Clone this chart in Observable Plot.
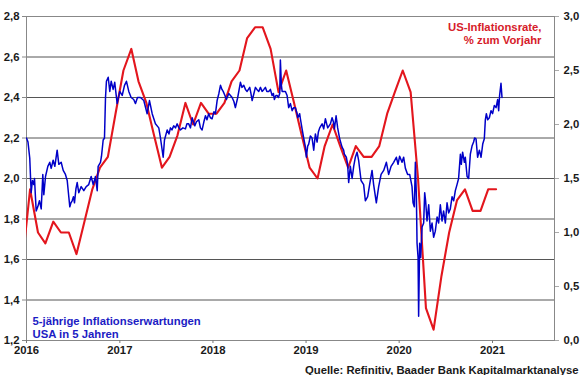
<!DOCTYPE html>
<html><head><meta charset="utf-8">
<script src="https://cdn.jsdelivr.net/npm/d3@7"></script>
<script src="https://cdn.jsdelivr.net/npm/@observablehq/plot@0.6"></script>
<style>body{margin:0;background:#fff}</style>
</head><body><div id="chart"></div>
<script>
// Left axis (5y5y breakeven, %) ticks
const leftTicks = [1.2, 1.4, 1.6, 1.8, 2.0, 2.2, 2.4, 2.6, 2.8];
// Right axis (CPI, % yoy) ticks
const rightTicks = [0, 0.5, 1.0, 1.5, 2.0, 2.5, 3.0];
const yearTicks = [2016, 2017, 2018, 2019, 2020, 2021];

// US CPI inflation, % yoy, monthly Dec 2015 .. Jan 2021
const cpiStart = [2015, 11]; // year, month index
const cpiValues = [0.7,
  1.4,1.0,0.9,1.1,1.0,1.0,0.8,1.1,1.4,1.6,1.7,2.1,
  2.5,2.7,2.4,2.2,1.9,1.6,1.7,1.9,2.2,2.0,2.2,2.1,
  2.1,2.2,2.4,2.5,2.8,2.9,2.9,2.7,2.3,2.5,2.2,1.9,
  1.6,1.5,1.8,2.0,1.8,1.6,1.8,1.7,1.7,1.8,2.1,2.3,
  2.5,2.3,1.5,0.3,0.1,0.6,1.0,1.3,1.4,1.2,1.2,1.4,
  1.4];

// 5y5y inflation expectations: time (years since 1 Jan 2016) and value (%)
const bevYears = [0.000,0.016,0.035,0.050,0.064,0.078,0.086,0.097,0.104,0.121,0.139,0.158,0.175,0.186,0.204,0.229,0.250,0.265,0.286,0.304,0.329,0.347,0.372,0.394,0.418,0.437,0.454,0.465,0.477,0.490,0.504,0.515,0.531,0.544,0.561,0.587,0.615,0.641,0.668,0.694,0.716,0.740,0.759,0.769,0.794,0.805,0.823,0.837,0.848,0.858,0.877,0.894,0.909,0.930,0.947,0.973,1.001,1.027,1.052,1.073,1.098,1.123,1.151,1.170,1.191,1.223,1.259,1.295,1.320,1.349,1.384,1.420,1.438,1.467,1.481,1.510,1.529,1.545,1.561,1.580,1.599,1.617,1.636,1.652,1.679,1.706,1.722,1.741,1.760,1.778,1.806,1.824,1.849,1.867,1.885,1.904,1.921,1.937,1.956,1.974,1.992,2.012,2.028,2.046,2.065,2.082,2.098,2.111,2.130,2.146,2.171,2.189,2.207,2.226,2.242,2.267,2.296,2.312,2.332,2.350,2.368,2.396,2.409,2.422,2.441,2.457,2.473,2.493,2.511,2.529,2.548,2.564,2.580,2.600,2.618,2.636,2.650,2.661,2.677,2.690,2.704,2.718,2.725,2.736,2.744,2.761,2.779,2.797,2.814,2.833,2.851,2.868,2.886,2.905,2.911,2.932,2.940,2.958,2.975,2.994,3.004,3.018,3.029,3.047,3.065,3.083,3.101,3.119,3.133,3.147,3.173,3.190,3.208,3.233,3.262,3.280,3.294,3.305,3.323,3.340,3.362,3.387,3.404,3.412,3.433,3.447,3.458,3.476,3.495,3.512,3.530,3.548,3.565,3.591,3.619,3.637,3.662,3.683,3.709,3.726,3.755,3.780,3.806,3.834,3.863,3.887,3.913,3.941,3.970,3.988,4.005,4.031,4.048,4.067,4.091,4.113,4.138,4.149,4.163,4.174,4.185,4.192,4.203,4.209,4.220,4.231,4.246,4.263,4.274,4.284,4.299,4.317,4.335,4.353,4.370,4.388,4.407,4.424,4.442,4.460,4.477,4.496,4.514,4.531,4.549,4.568,4.585,4.603,4.621,4.638,4.657,4.667,4.681,4.700,4.710,4.729,4.746,4.764,4.782,4.799,4.810,4.825,4.842,4.861,4.879,4.897,4.914,4.925,4.936,4.950,4.968,4.986,5.003,5.021,5.040,5.057,5.068,5.078,5.093,5.104];
const bevValues = [2.20,2.18,2.10,1.93,1.99,1.97,2.00,1.90,1.84,1.86,1.89,1.85,2.02,1.92,2.01,2.06,2.08,2.05,2.09,2.06,2.14,2.07,2.08,2.04,2.02,1.99,1.91,1.86,1.88,1.89,1.91,1.88,1.95,1.98,1.93,1.96,1.94,1.96,1.97,2.01,1.97,2.01,1.94,2.06,2.08,2.11,2.19,2.20,2.40,2.48,2.50,2.43,2.48,2.44,2.475,2.37,2.43,2.41,2.46,2.48,2.43,2.40,2.39,2.37,2.40,2.40,2.385,2.32,2.385,2.32,2.27,2.25,2.20,2.105,2.19,2.24,2.22,2.25,2.24,2.26,2.25,2.27,2.25,2.24,2.25,2.245,2.27,2.27,2.25,2.30,2.26,2.28,2.29,2.25,2.24,2.28,2.31,2.29,2.32,2.30,2.295,2.33,2.32,2.385,2.42,2.46,2.44,2.43,2.41,2.39,2.42,2.41,2.40,2.38,2.35,2.40,2.475,2.45,2.46,2.44,2.43,2.45,2.42,2.385,2.42,2.45,2.44,2.43,2.45,2.43,2.44,2.45,2.43,2.43,2.44,2.41,2.42,2.39,2.41,2.41,2.40,2.42,2.585,2.46,2.43,2.43,2.43,2.41,2.35,2.37,2.335,2.35,2.35,2.32,2.30,2.32,2.295,2.245,2.20,2.155,2.105,2.16,2.17,2.21,2.20,2.14,2.22,2.18,2.23,2.25,2.27,2.245,2.295,2.25,2.27,2.30,2.28,2.245,2.31,2.25,2.195,2.155,2.14,2.12,2.105,2.07,1.98,2.06,2.00,2.06,2.105,2.13,2.09,1.99,1.97,1.89,1.91,1.97,2.04,1.97,1.88,1.96,2.02,2.04,2.08,2.02,2.06,2.08,2.105,2.07,2.11,2.08,2.105,2.05,2.02,2.02,1.96,1.88,1.86,2.08,1.91,1.68,1.61,1.32,1.68,1.61,1.76,1.78,1.93,1.89,1.79,1.87,1.74,1.78,1.71,1.74,1.81,1.78,1.87,1.79,1.84,1.78,1.88,1.83,1.85,1.91,1.89,1.94,1.97,2.00,2.12,2.07,2.13,2.08,2.105,2.01,2.00,2.12,2.16,2.18,2.20,2.196,2.105,2.14,2.105,2.17,2.196,2.29,2.32,2.29,2.30,2.335,2.32,2.36,2.35,2.39,2.335,2.41,2.47,2.40];

const titleLines = ["US-Inflationsrate,", "% zum Vorjahr"];
const legendLines = ["5-jährige Inflationserwartungen", "USA in 5 Jahren"];
const sourceText = "Quelle: Refinitiv, Baader Bank Kapitalmarktanalyse";

// helpers
const base = Date.UTC(2016, 0, 1);
const yearDate = t => new Date(base + t * 365.25 * 864e5);
const fmt = v => v.toFixed(1).replace(".", ",");
const L0 = 1.2, L1 = 2.8, R1 = 3.0;
const toLeft = v => L0 + v * (L1 - L0) / R1;
const fromLeft = y => Math.round((y - L0) * R1 / (L1 - L0) * 10) / 10;

const cpi = cpiValues.map((v, i) => ({date: new Date(Date.UTC(cpiStart[0], cpiStart[1] + i, 15)), v}));
const n = Math.min(bevYears.length, bevValues.length);
const bev = d3.range(n).map(i => ({date: yearDate(bevYears[i]), v: bevValues[i]}));

const RED = "#e3161d", BLUE = "#0000c8";
const font = "'Liberation Sans', Arial, sans-serif";

const chart = Plot.plot({
  width: 580, height: 375,
  marginLeft: 26, marginRight: 26, marginTop: 16, marginBottom: 35,
  x: {type: "utc", domain: [new Date(base), new Date(Date.UTC(2021, 8, 1))], label: null},
  y: {domain: [L0, L1], label: null},
  style: {fontFamily: font, fontSize: "11.3px", fontWeight: "bold", color: "#1a1a1a", background: "#fff"},
  marks: [
    Plot.ruleY(leftTicks, {stroke: "#555", strokeWidth: 1}),
    Plot.frame({stroke: "#888", strokeWidth: 1}),
    Plot.axisY(leftTicks, {anchor: "left", label: null, tickSize: 4, tickPadding: 3, tickFormat: fmt, stroke: "#888", fill: "#1a1a1a"}),
    Plot.axisY(rightTicks.map(toLeft), {anchor: "right", label: null, tickSize: 4, tickPadding: 5, tickFormat: d => fmt(fromLeft(d)), stroke: "#aaa", fill: "#1a1a1a"}),
    Plot.axisX(yearTicks.map(y => new Date(Date.UTC(y, 0, 1))), {anchor: "bottom", label: null, tickSize: 3, tickPadding: 2, tickFormat: d => String(d.getUTCFullYear()), stroke: "#777", fill: "#1a1a1a"}),
    Plot.line(cpi, {x: "date", y: d => toLeft(d.v), stroke: RED, strokeWidth: 2.1, clip: true}),
    Plot.line(bev, {x: "date", y: "v", stroke: BLUE, strokeWidth: 1.5, clip: true}),
    Plot.text([titleLines.join("\n")], {frameAnchor: "top-right", dx: -13, dy: 5, textAnchor: "end", lineHeight: 1.16, fill: "#d6202a", fontWeight: "bold"}),
    Plot.text([legendLines.join("\n")], {frameAnchor: "bottom-left", dx: 6, dy: -3, textAnchor: "start", lineHeight: 1.12, fill: "#1c1cc4", fontWeight: "bold"}),
    Plot.text([sourceText], {frameAnchor: "bottom-right", dx: 24, dy: 33, textAnchor: "end", lineAnchor: "bottom", fill: "#1a1a1a", fontWeight: "bold"})
  ]
});
document.getElementById("chart").appendChild(chart);
</script>
</body></html>
